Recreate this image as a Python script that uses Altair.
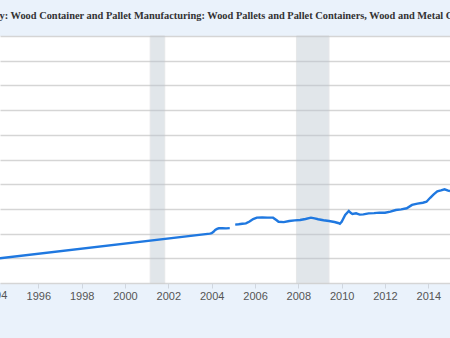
import altair as alt
import pandas as pd

# ---- data ----
title_text = ("Producer Price Index by Industry: Wood Container and Pallet Manufacturing: "
              "Wood Pallets and Pallet Containers, Wood and Metal Combination")

dates = [
    "1994-01-01", "2003-12-01", "2004-01-01", "2004-02-01", "2004-03-01", "2004-04-01",
    "2004-05-01", "2004-07-01", "2004-09-01", "2004-11-01",
    "2005-02-01", "2005-04-01", "2005-06-01", "2005-08-01", "2005-10-01", "2005-12-01",
    "2006-02-01", "2006-05-01", "2006-08-01", "2006-11-01", "2007-01-01", "2007-02-01",
    "2007-05-01", "2007-08-01", "2007-11-01", "2008-02-01", "2008-05-01", "2008-08-01",
    "2008-10-01", "2008-12-01", "2009-03-01", "2009-06-01", "2009-09-01", "2009-11-01",
    "2009-12-01", "2010-01-01", "2010-03-01", "2010-05-01", "2010-06-01", "2010-07-01",
    "2010-09-01", "2010-11-01", "2011-01-01", "2011-04-01", "2011-07-01", "2011-10-01",
    "2012-01-01", "2012-04-01", "2012-07-01", "2012-10-01", "2013-01-01", "2013-04-01",
    "2013-07-01", "2013-10-01", "2013-12-01", "2014-02-01", "2014-04-01", "2014-06-01",
    "2014-08-01", "2014-10-01", "2014-12-01", "2015-01-01",
]
values = [
    79.5, 100.0, 100.3, 101.5, 102.9, 103.8,
    104.3, 104.3, 104.2, 104.4,
    107.3, 107.6, 108.0, 108.3, 109.8, 111.8,
    112.9, 113.1, 112.9, 112.9, 110.8, 109.6,
    109.3, 110.2, 110.7, 111.0, 111.8, 112.9,
    112.3, 111.6, 110.8, 110.2, 109.4, 108.6,
    108.0, 109.5, 115.1, 118.3, 116.8, 115.9,
    116.4, 115.4, 115.6, 116.4, 116.6, 117.0,
    116.9, 117.8, 119.1, 119.6, 120.5, 123.2,
    124.3, 125.0, 125.8, 129.0, 131.8, 134.2,
    135.0, 135.9, 134.8, 134.5,
]
segments = [1] * 10 + [2] * (len(dates) - 10)

rec_start = ["2001-03-01", "2007-12-01"]
rec_end = ["2001-11-01", "2009-06-01"]

tick_years = [str(y) for y in range(1994, 2016, 2)]
tick_dates = [f"{y}-01-01" for y in tick_years]
edge_label_date = ["1994-01-01"]
edge_label_text = ["1994"]

x_domain = ["1994-03-26", "2015-01-01"]
y_domain = [60, 260]
y_ticks = list(range(60, 261, 20))

# ---- tables ----
series = pd.DataFrame({"date": dates, "value": values, "seg": segments})
rec = pd.DataFrame({"start": rec_start, "end": rec_end})
ttl = pd.DataFrame({"t": [title_text]})
edge = pd.DataFrame({"date": edge_label_date, "lab": edge_label_text})

xscale = alt.Scale(domain=x_domain)
yscale = alt.Scale(domain=y_domain)

bands = alt.Chart(rec).mark_rect(
    color="#b9c4cf", opacity=0.42, stroke="#c4c8cc", strokeWidth=1, strokeOpacity=1
).encode(
    x=alt.X("start:T", scale=xscale),
    x2="end:T",
    y=alt.value(0),
    y2=alt.value(247),
)

line = alt.Chart(series).mark_line(
    color="#1f78e0", strokeWidth=2.4, clip=True
).encode(
    x=alt.X(
        "date:T",
        scale=xscale,
        title=None,
        axis=alt.Axis(
            values=tick_dates, format="%Y", grid=False, domain=False,
            tickColor="#d0d6de", tickSize=5, labelColor="#555555",
            labelFont="Liberation Sans", labelFontSize=11, labelPadding=2,
        ),
    ),
    y=alt.Y(
        "value:Q",
        scale=yscale,
        title=None,
        axis=alt.Axis(
            values=y_ticks, labels=False, ticks=False, domain=False,
            grid=True, gridColor="#d5d5d5", gridWidth=1.5,
        ),
    ),
    detail="seg:N",
)

edge_lab = alt.Chart(edge).mark_text(
    align="center", baseline="top", font="Liberation Sans", fontSize=11,
    color="#555555", clip=False,
).encode(
    x=alt.X("date:T", scale=xscale),
    y=alt.value(254),
    text="lab:N",
)

title = alt.Chart(ttl).mark_text(
    align="left", baseline="alphabetic", font="Liberation Serif", fontWeight="bold",
    fontSize=10.4, color="#333333", clip=False,
).encode(
    text="t:N",
    x=alt.value(-145),
    y=alt.value(-17),
)

chart = alt.layer(bands, line, edge_lab, title).properties(
    width=450,
    height=247,
    background="#eaf2fb",
    padding={"left": 0, "right": 0, "top": 36, "bottom": 55},
    autosize=alt.AutoSizeParams(type="none"),
).configure_view(fill="white", stroke=None)

chart.save("out.html", embed_options={"renderer": "svg", "actions": False})
